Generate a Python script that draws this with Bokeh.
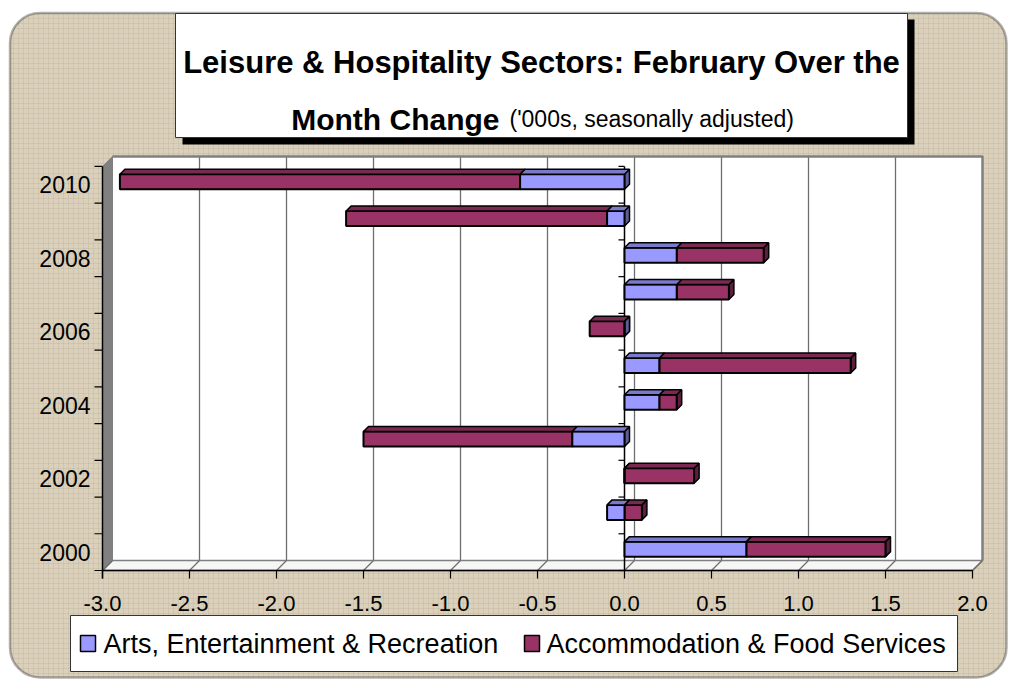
import numpy as np
from bokeh.plotting import figure
from bokeh.models import Range1d, BoxAnnotation
from bokeh.core.properties import value
from bokeh.embed import file_html
from bokeh.resources import INLINE

# ---------------- data ----------------
years = [2000, 2001, 2002, 2003, 2004, 2005, 2006, 2007, 2008, 2009, 2010]
arts = [0.7, -0.1, 0.0, -0.3, 0.2, 0.2, 0.0, 0.3, 0.3, -0.1, -0.6]
accom = [0.8, 0.1, 0.4, -1.2, 0.1, 1.1, -0.2, 0.3, 0.5, -1.5, -2.3]
series_names = ["Arts, Entertainment & Recreation", "Accommodation & Food Services"]
year_labels = ["2000", "2002", "2004", "2006", "2008", "2010"]
x_ticks = [-3.0, -2.5, -2.0, -1.5, -1.0, -0.5, 0.0, 0.5, 1.0, 1.5, 2.0]
x_tick_labels = ["-3.0", "-2.5", "-2.0", "-1.5", "-1.0", "-0.5", "0.0", "0.5", "1.0", "1.5", "2.0"]
title_line1 = "Leisure & Hospitality Sectors: February Over the"
title_bold2 = "Month Change"
title_note = "('000s, seasonally adjusted)"

# ---------------- styles / geometry ----------------
ARTS_C, ARTS_TOP, ARTS_SIDE = "#9999FF", "#7A7ACC", "#5C5C99"
ACC_C, ACC_TOP, ACC_SIDE = "#993366", "#7A2952", "#5C1F3D"
BG = "#DAD0BB"
FONT = value("Liberation Sans")

X0, SX, Y0, SY = 624.0, 174.0, 570.0, 36.73   # px of value 0 / category 0, px per unit
W, H = 1010, 679


def X(px):
    return (px - X0) / SX


def Y(py):
    return (Y0 - py) / SY


p = figure(width=W, height=H, x_range=Range1d(X(0), X(W)), y_range=Range1d(Y(H), Y(0)),
           output_backend="svg", toolbar_location=None, x_axis_type=None, y_axis_type=None,
           min_border=0, outline_line_color=None, background_fill_color="white",
           border_fill_color="white")

# outer rounded textured frame
frame = BoxAnnotation(left=X(9.5), right=X(1006), top=Y(12.5), bottom=Y(677), border_radius=30,
                      fill_color=BG, fill_alpha=1.0, line_color="black", line_width=2.5,
                      hatch_pattern="+", hatch_scale=5, hatch_color="#B9AC90", hatch_alpha=0.3,
                      hatch_weight=1, level="underlay")
p.add_layout(frame)

# title box with shadow
p.quad(left=[X(182)], right=[X(914)], top=[Y(19)], bottom=[Y(144)], fill_color="black", line_color=None)
p.quad(left=[X(175)], right=[X(907)], top=[Y(13)], bottom=[Y(137)], fill_color="white",
       line_color="#333333", line_width=1)
p.text(x=[X(541)], y=[Y(62)], text=[title_line1], text_font=FONT, text_font_style="bold",
       text_font_size="31px", text_align="center", text_baseline="alphabetic", text_color="black")
p.text(x=[X(499)], y=[Y(119)], text=[title_bold2], text_font=FONT, text_font_style="bold",
       text_font_size="30px", text_align="right", text_baseline="alphabetic", text_color="black")
p.text(x=[X(509)], y=[Y(118)], text=[title_note], text_font=FONT, text_font_style="normal",
       text_font_size="23px", text_align="left", text_baseline="alphabetic", text_color="black")

# ---------------- 3D plot area ----------------
ncat = len(years)
vmin, vmax = x_ticks[0], x_ticks[-1]
dxb, dyb = 10 / SX, 10 / SY
GRAY = "#808080"

# back wall
p.quad(left=[vmin + dxb], right=[vmax + dxb], bottom=[dyb], top=[ncat + dyb], fill_color="white",
       line_color=None)
p.segment(x0=[v + dxb for v in x_ticks[1:-1]], y0=dyb, x1=[v + dxb for v in x_ticks[1:-1]],
          y1=ncat + dyb, line_color="#6E6E6E", line_width=1.3)
p.line(x=[vmin + dxb, vmax + dxb, vmax + dxb], y=[ncat + dyb, ncat + dyb, dyb], line_color=GRAY,
       line_width=2.5)
# left wall
p.patch(x=[vmin, vmin + dxb, vmin + dxb, vmin], y=[0, dyb, ncat + dyb, ncat], fill_color=GRAY,
        line_color=GRAY, line_width=1)
# floor
p.patch(x=[vmin, vmax, vmax + dxb, vmin + dxb], y=[0, 0, dyb, dyb], fill_color="#F6F6F6",
        line_color=GRAY, line_width=1.5)
p.segment(x0=x_ticks, y0=0, x1=[v + dxb for v in x_ticks], y1=dyb, line_color="#6E6E6E", line_width=1.2)

# value axis (front floor edge)
tick_len_y = 8 / SY
p.line(x=[vmin, vmax], y=[0, 0], line_color="black", line_width=1.5)
p.segment(x0=x_ticks, y0=0, x1=x_ticks, y1=-tick_len_y, line_color="black", line_width=1.2)
# left category axis
cats = list(range(ncat + 1))
p.segment(x0=[vmin], y0=[-tick_len_y], x1=[vmin], y1=[ncat], line_color="black", line_width=1.5)
p.segment(x0=vmin - 8 / SX, y0=cats, x1=vmin, y1=cats, line_color="black", line_width=1.2)
# zero category axis
p.segment(x0=[0], y0=[0], x1=[0], y1=[ncat], line_color="black", line_width=1.5)
p.segment(x0=-6 / SX, y0=cats, x1=0, y1=cats, line_color="black", line_width=1.2)

# axis labels
p.text(x=X(90), y=[int(t) - years[0] + 0.5 for t in year_labels], text=year_labels, text_font=FONT,
       text_font_size="23px", text_align="right", text_baseline="middle", text_color="black")
p.text(x=x_ticks, y=Y(603), text=x_tick_labels, text_font=FONT, text_font_size="22px",
       text_align="center", text_baseline="middle", text_color="black")

# ---------------- stacked 3D bars ----------------
a = np.array(arts, dtype=float)
c = np.array(accom, dtype=float)
a_left, a_right = np.minimum(a, 0), np.maximum(a, 0)
start = np.where(c >= 0, np.maximum(a, 0), np.minimum(a, 0))
c_left, c_right = np.minimum(start, start + c), np.maximum(start, start + c)

yc = np.array(years) - years[0] + 0.5 + 3 / SY
bh = 15 / SY
bot, top = yc - bh / 2, yc + bh / 2
ddx, ddy = 5 / SX, 5 / SY


def side_faces(rights, color):
    xs = [[r, r, r + ddx, r + ddx] for r in rights]
    ys = [[b, t, t + ddy, b + ddy] for b, t in zip(bot, top)]
    p.patches(xs=xs, ys=ys, fill_color=color, line_color="black", line_width=1.5)


def top_faces(lefts, rights, color):
    xs = [[l, r, r + ddx, l + ddx] for l, r in zip(lefts, rights)]
    ys = [[t, t, t + ddy, t + ddy] for t in top]
    p.patches(xs=xs, ys=ys, fill_color=color, line_color="black", line_width=1.5)


side_faces(c_right, ACC_SIDE)
side_faces(a_right, ARTS_SIDE)
p.hbar(y=yc, left=c_left, right=c_right, height=bh, fill_color=ACC_C, line_color="black", line_width=2)
p.hbar(y=yc, left=a_left, right=a_right, height=bh, fill_color=ARTS_C, line_color="black", line_width=2)
top_faces(c_left, c_right, ACC_TOP)
top_faces(a_left, a_right, ARTS_TOP)

# ---------------- legend ----------------
p.quad(left=[X(70)], right=[X(957)], top=[Y(615)], bottom=[Y(671)], fill_color="white",
       line_color="#333333", line_width=1)
p.quad(left=[X(80), X(524)], right=[X(95), X(539)], top=[Y(635)] * 2, bottom=[Y(651)] * 2,
       fill_color=[ARTS_C, ACC_C], line_color="black", line_width=1.5)
p.text(x=[X(103), X(546)], y=[Y(643)] * 2, text=series_names, text_font=FONT, text_font_size="27px",
       text_align="left", text_baseline="middle", text_color="black")

open("out.html", "w").write(file_html(p, INLINE))
